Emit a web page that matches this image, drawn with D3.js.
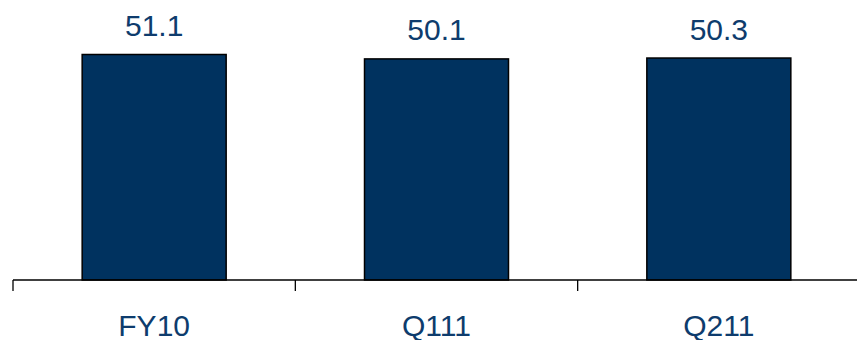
<!DOCTYPE html>
<html>
<head>
<meta charset="utf-8">
<script src="https://cdn.jsdelivr.net/npm/d3@7"></script>
<style>
  html, body { margin: 0; padding: 0; background: #ffffff; }
  svg { display: block; }
</style>
</head>
<body>
<svg id="chart" width="857" height="340"></svg>
<script>
// Period labels and their values
const categories = ["FY10", "Q111", "Q211"];
const values = [51.1, 50.1, 50.3];

const svg = d3.select("#chart");
const baseY = 280;
const left = 13, right = 860;

const x = d3.scaleBand()
  .domain(categories)
  .range([left, right])
  .paddingInner(0.49)
  .paddingOuter(0.245);

const y = d3.scaleLinear()
  .domain([0, 63.45])
  .range([baseY, 0]);

const barFill = "#00325f";
const textFill = "#0e3c6d";

// Bars
svg.append("g").selectAll("rect")
  .data(values)
  .join("rect")
  .attr("x", (d, i) => x(categories[i]))
  .attr("y", d => y(d))
  .attr("width", x.bandwidth())
  .attr("height", d => baseY - y(d))
  .attr("fill", barFill)
  .attr("stroke", "#000")
  .attr("stroke-width", 1.5);

// Value labels above bars
svg.append("g").selectAll("text")
  .data(values)
  .join("text")
  .attr("x", (d, i) => x(categories[i]) + x.bandwidth() / 2)
  .attr("y", d => y(d) - 18.5)
  .attr("text-anchor", "middle")
  .attr("font-family", "'Liberation Sans', Arial, sans-serif")
  .attr("font-size", 30)
  .attr("fill", textFill)
  .text(d => d.toFixed(1));

// Category axis: baseline with ticks at band boundaries
const axis = svg.append("g").attr("stroke", "#000").attr("stroke-width", 1.3);
axis.append("line")
  .attr("x1", left).attr("x2", right)
  .attr("y1", baseY).attr("y2", baseY);
const step = x.step();
const boundaries = categories.map((c, i) => left + i * step).concat([left + categories.length * step]);
axis.selectAll("line.tick")
  .data(boundaries)
  .join("line")
  .attr("class", "tick")
  .attr("x1", d => d).attr("x2", d => d)
  .attr("y1", baseY).attr("y2", baseY + 11);

svg.append("g").selectAll("text")
  .data(categories)
  .join("text")
  .attr("x", d => x(d) + x.bandwidth() / 2)
  .attr("y", 335.5)
  .attr("text-anchor", "middle")
  .attr("font-family", "'Liberation Sans', Arial, sans-serif")
  .attr("font-size", 30)
  .attr("fill", textFill)
  .text(d => d);
</script>
</body>
</html>
